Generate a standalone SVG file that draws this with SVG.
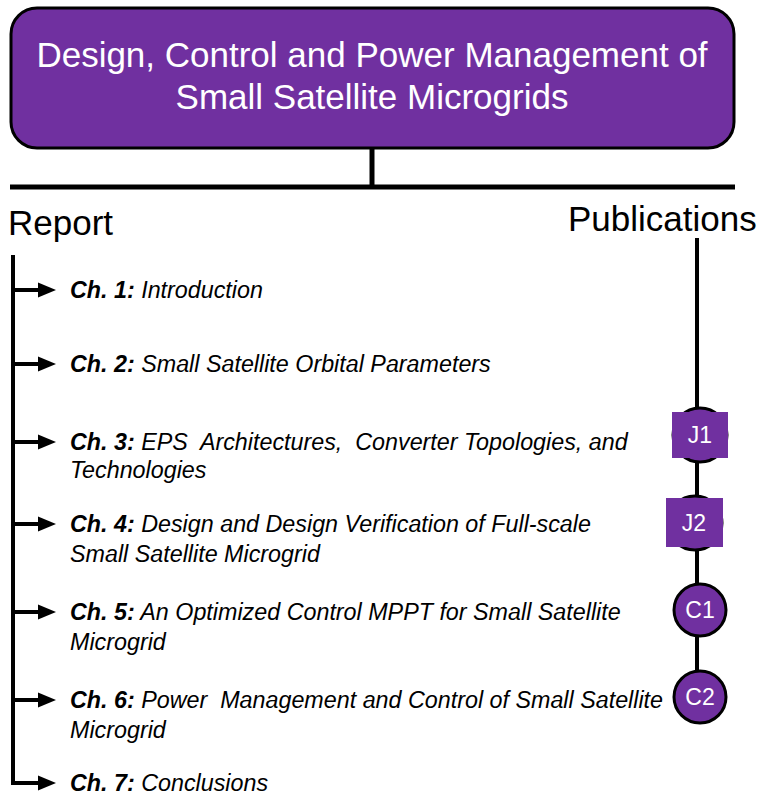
<svg xmlns="http://www.w3.org/2000/svg" width="761" height="796" viewBox="0 0 761 796">
<style>
.t{font-family:"Liberation Sans",Arial,sans-serif;}
.ch{font-family:"Liberation Sans",Arial,sans-serif;font-size:23.3px;font-style:italic;fill:#000;white-space:pre;}
.b{font-weight:bold;}
.ln{stroke:#000;fill:none;}
.pub{fill:#7030A0;stroke:#000;stroke-width:3;}
.pl{font-family:"Liberation Sans",Arial,sans-serif;font-size:23px;fill:#fff;text-anchor:middle;}
</style>
<defs>
<marker id="ah" markerWidth="5" markerHeight="4" refX="0" refY="1.9" orient="auto" markerUnits="strokeWidth">
<path d="M0,0 L4.5,1.9 L0,3.8 Z" fill="#000"/>
</marker>
</defs>
<g id="title">
<rect x="11" y="8" width="723" height="140" rx="26" fill="#7030A0" stroke="#000" stroke-width="3"/>
<text class="t" x="372" y="67" font-size="35" fill="#fff" text-anchor="middle">Design, Control and Power Management of</text>
<text class="t" x="372" y="109" font-size="35" fill="#fff" text-anchor="middle">Small Satellite Microgrids</text>
</g>
<g id="connectors">
<line class="ln" x1="372" y1="148" x2="372" y2="187" stroke-width="5"/>
<line class="ln" x1="10" y1="187" x2="735" y2="187" stroke-width="5"/>
<line class="ln" x1="13" y1="255" x2="13" y2="785" stroke-width="4"/>
<line class="ln" x1="697" y1="238" x2="697" y2="700" stroke-width="4"/>
<g stroke="#000" stroke-width="4" marker-end="url(#ah)">
<line x1="13" y1="290" x2="38" y2="290"/>
<line x1="13" y1="364" x2="38" y2="364"/>
<line x1="13" y1="442" x2="38" y2="442"/>
<line x1="13" y1="524" x2="38" y2="524"/>
<line x1="13" y1="612" x2="38" y2="612"/>
<line x1="13" y1="700" x2="38" y2="700"/>
<line x1="11" y1="783" x2="38" y2="783"/>
</g>
</g>
<g id="report"><text class="t" x="8" y="235" font-size="35" fill="#000">Report</text></g>
<g id="publications"><text class="t" x="568" y="231" font-size="35" fill="#000">Publications</text></g>
<g id="ch1"><text class="ch" x="70" y="298"><tspan class="b">Ch. 1:</tspan> Introduction</text></g>
<g id="ch2"><text class="ch" x="70" y="372"><tspan class="b">Ch. 2:</tspan> Small Satellite Orbital Parameters</text></g>
<g id="ch3"><text class="ch" x="70" y="450" xml:space="preserve"><tspan class="b">Ch. 3:</tspan> EPS  Architectures,  Converter Topologies, and</text><text class="ch" x="70" y="478">Technologies</text></g>
<g id="ch4"><text class="ch" x="70" y="532"><tspan class="b">Ch. 4:</tspan> Design and Design Verification of Full-scale</text><text class="ch" x="70" y="562">Small Satellite Microgrid</text></g>
<g id="ch5"><text class="ch" x="70" y="620"><tspan class="b">Ch. 5:</tspan> An Optimized Control MPPT for Small Satellite</text><text class="ch" x="70" y="650">Microgrid</text></g>
<g id="ch6"><text class="ch" x="70" y="708" xml:space="preserve"><tspan class="b">Ch. 6:</tspan> Power  Management and Control of Small Satellite</text><text class="ch" x="70" y="738">Microgrid</text></g>
<g id="ch7"><text class="ch" x="70" y="791"><tspan class="b">Ch. 7:</tspan> Conclusions</text></g>
<g id="J1">
<circle cx="700" cy="435" r="27" fill="#7030A0" stroke="#000" stroke-width="3"/>
<rect x="672" y="412" width="56" height="46" fill="#7030A0"/>
<text class="pl" x="700" y="443">J1</text>
</g>
<g id="J2">
<circle cx="695" cy="523" r="27" fill="#7030A0" stroke="#000" stroke-width="3"/>
<rect x="666" y="498" width="57" height="49" fill="#7030A0"/>
<text class="pl" x="694" y="531">J2</text>
</g>
<g id="C1">
<circle class="pub" cx="700" cy="610" r="26"/>
<text class="pl" x="700" y="618">C1</text>
</g>
<g id="C2">
<circle class="pub" cx="700" cy="697" r="26"/>
<text class="pl" x="700" y="705">C2</text>
</g>
</svg>
